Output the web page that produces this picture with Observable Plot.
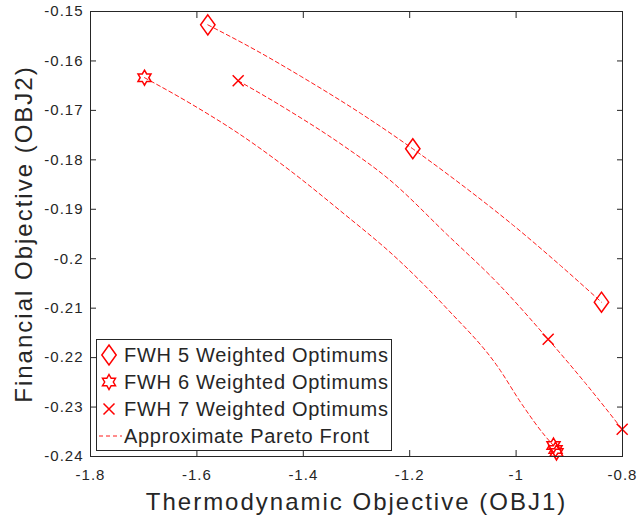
<!DOCTYPE html>
<html><head><meta charset="utf-8">
<script src="https://cdn.jsdelivr.net/npm/d3@7"></script>
<script src="https://cdn.jsdelivr.net/npm/@observablehq/plot@0.6"></script>
<style>
body{margin:0;background:#fff}
#chart{width:637px;height:523px}
</style>
</head><body><div id="chart"></div>
<script>
// ---- Data ----
const xTicks = [-1.8, -1.6, -1.4, -1.2, -1, -0.8];
const xTickLabels = ["-1.8", "-1.6", "-1.4", "-1.2", "-1", "-0.8"];
const yTicks = [-0.24, -0.23, -0.22, -0.21, -0.2, -0.19, -0.18, -0.17, -0.16, -0.15];
const yTickLabels = ["-0.24", "-0.23", "-0.22", "-0.21", "-0.2", "-0.19", "-0.18", "-0.17", "-0.16", "-0.15"];

const xTitle = "Thermodynamic Objective (OBJ1)";
const yTitle = "Financial Objective (OBJ2)";
const legendLabels = ["FWH 5 Weighted Optimums", "FWH 6 Weighted Optimums", "FWH 7 Weighted Optimums", "Approximate Pareto Front"];

// Weighted optimums
const fwh5X = [-1.5795, -1.1942, -0.8395];
const fwh5Y = [-0.1527, -0.17777, -0.20879];
const fwh6X = [-1.6985, -0.9297, -0.9259, -0.9241];
const fwh6Y = [-0.16338, -0.23778, -0.23859, -0.2392];
const fwh7X = [-1.5224, -0.9397, -0.8006];
const fwh7Y = [-0.1640, -0.2163, -0.2345];

// Approximate Pareto fronts (dashed curves)
const front5X = [-1.5795, -1.4898, -1.4053, -1.2925, -1.1942, -1.1045, -1.0049, -0.9165, -0.8395];
const front5Y = [-0.1527, -0.1578, -0.16307, -0.17058, -0.17777, -0.18487, -0.19328, -0.20139, -0.20879];
const front6X = [-1.6985, -1.6083, -1.518, -1.4241, -1.3301, -1.2229, -1.1289, -1.035, -0.9885, -0.9447, -0.9297];
const front6Y = [-0.16338, -0.16885, -0.17493, -0.18223, -0.19034, -0.20007, -0.21021, -0.22176, -0.22952, -0.23595, -0.23778];
const front7X = [-1.5224, -1.4367, -1.3239, -1.2393, -1.1289, -1.035, -0.9397, -0.8695, -0.8006];
const front7Y = [-0.1640, -0.1694, -0.1772, -0.1839, -0.1952, -0.2049, -0.2163, -0.2252, -0.2345];

// ---- Build tables ----
const zip = (xs, ys, s) => xs.map((x, i) => ({x, y: ys[i], s}));
const pts5 = zip(fwh5X, fwh5Y, "5"), pts6 = zip(fwh6X, fwh6Y, "6"), pts7 = zip(fwh7X, fwh7Y, "7");
const fronts = [...zip(front5X, front5Y, "5"), ...zip(front6X, front6Y, "6"), ...zip(front7X, front7Y, "7")];

// ---- Custom MATLAB-like symbols ----
const symDiamond = {draw(ctx, size) {
  const r = Math.sqrt(size / Math.PI), w = r * 0.72, h = r;
  ctx.moveTo(0, -h); ctx.lineTo(w, 0); ctx.lineTo(0, h); ctx.lineTo(-w, 0); ctx.closePath();
}};
const symHexagram = {draw(ctx, size) {
  const R = Math.sqrt(size / Math.PI) * 0.75, ri = R / Math.sqrt(3);
  for (let i = 0; i < 12; i++) {
    const a = -Math.PI / 2 + i * Math.PI / 6, rr = i % 2 === 0 ? R : ri;
    const px = rr * Math.cos(a), py = rr * Math.sin(a);
    if (i === 0) ctx.moveTo(px, py); else ctx.lineTo(px, py);
  }
  ctx.closePath();
}};
const symCross = {draw(ctx, size) {
  const a = Math.sqrt(size / Math.PI) * 0.55;
  ctx.moveTo(-a, -a); ctx.lineTo(a, a); ctx.moveTo(-a, a); ctx.lineTo(a, -a);
}};

const axisColor = "#262626";
const font = "'Liberation Sans', Arial, Helvetica, sans-serif";
const lookup = (ticks, labels) => d => labels[ticks.findIndex(t => Math.abs(t - d) < 1e-9)];

const chart = Plot.plot({
  width: 637, height: 523,
  marginLeft: 90, marginRight: 15, marginTop: 11, marginBottom: 67,
  style: {fontFamily: font, color: axisColor, background: "white", overflow: "visible"},
  x: {domain: [-1.8, -0.8]},
  y: {domain: [-0.24, -0.15]},
  marks: [
    Plot.line(fronts, {x: "x", y: "y", z: "s", stroke: "#ff0000", strokeWidth: 0.9, strokeDasharray: "4,3", curve: "monotone-x"}),
    Plot.dot(pts5, {x: "x", y: "y", symbol: () => symDiamond, r: 10, stroke: "#ff0000", fill: "none", strokeWidth: 1.5}),
    Plot.dot(pts6, {x: "x", y: "y", symbol: () => symHexagram, r: 10, stroke: "#ff0000", fill: "none", strokeWidth: 1.5}),
    Plot.dot(pts7, {x: "x", y: "y", symbol: () => symCross, r: 10, stroke: "#ff0000", fill: "none", strokeWidth: 1.5}),
    Plot.axisX({anchor: "bottom", ticks: xTicks, tickFormat: lookup(xTicks, xTickLabels), tickSize: -6, tickPadding: 19, fontSize: 15, label: null, stroke: axisColor, fill: axisColor}),
    Plot.axisX({anchor: "top", ticks: xTicks, tickFormat: () => "", tickSize: -6, label: null, stroke: axisColor}),
    Plot.axisY({anchor: "left", ticks: yTicks, tickFormat: lookup(yTicks, yTickLabels), tickSize: -6, tickPadding: 13, fontSize: 15, label: null, stroke: axisColor, fill: axisColor}),
    Plot.axisY({anchor: "right", ticks: yTicks, tickFormat: () => "", tickSize: -6, label: null, stroke: axisColor}),
    Plot.frame({stroke: axisColor, strokeWidth: 1}),
    Plot.text([xTitle], {text: d => d, frameAnchor: "bottom", textAnchor: "middle", dy: 53, fontSize: 24, fill: axisColor}),
    Plot.text([yTitle], {text: d => d, frameAnchor: "left", textAnchor: "middle", rotate: -90, dx: -66, fontSize: 24, fill: axisColor})
  ]
});
document.getElementById("chart").appendChild(chart);

const svg = d3.select(chart);
svg.selectAll('g[aria-label="x-axis tick label"] text, g[aria-label="y-axis tick label"] text').style("letter-spacing", "1px");
svg.selectAll('g[aria-label="text"] text').style("letter-spacing", "2px");

// ---- Legend (MATLAB-style box, lower left) ----
const lg = svg.append("g").attr("font-family", font).attr("font-size", 20).attr("text-anchor", "start");
lg.append("rect").attr("x", 96.5).attr("y", 339.5).attr("width", 295).attr("height", 111)
  .attr("fill", "white").attr("stroke", axisColor).attr("stroke-width", 1);
const rowsY = [355, 382, 409, 436];
const syms = [symDiamond, symHexagram, symCross];
syms.forEach((s, i) => {
  lg.append("path").attr("transform", `translate(109,${rowsY[i]})`)
    .attr("d", d3.symbol(s, Math.PI * 100)())
    .attr("fill", "none").attr("stroke", "#ff0000").attr("stroke-width", 1.5);
});
lg.append("line").attr("x1", 99).attr("x2", 122).attr("y1", rowsY[3]).attr("y2", rowsY[3])
  .attr("stroke", "#ff0000").attr("stroke-width", 0.9).attr("stroke-dasharray", "4,3");
legendLabels.forEach((t, i) => {
  lg.append("text").attr("x", 124).attr("y", rowsY[i]).attr("dy", "0.35em")
    .attr("fill", axisColor).style("letter-spacing", "0.7px").text(t);
});
</script>
</body></html>
